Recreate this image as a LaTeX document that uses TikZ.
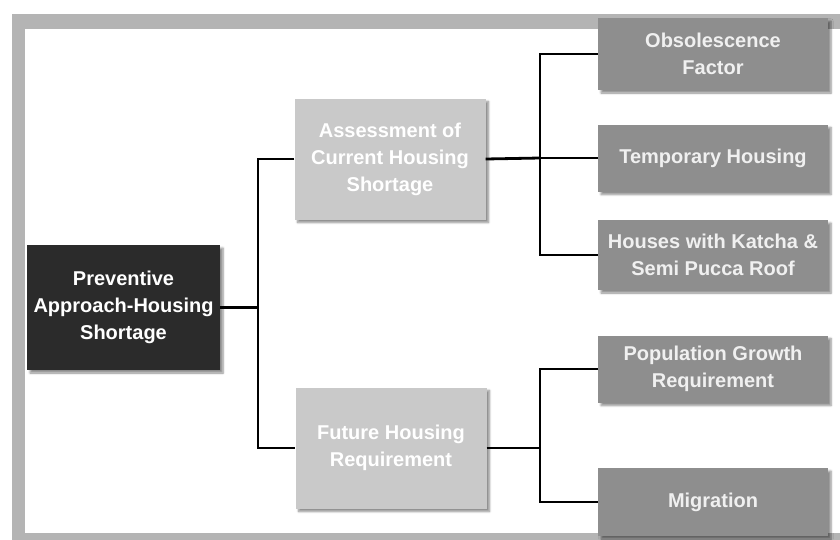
\documentclass[tikz,border=0pt]{standalone}
\usepackage{fontspec}
\setmainfont{Liberation Sans}
\usetikzlibrary{shadows.blur}
\definecolor{rootfill}{HTML}{2B2B2B}
\definecolor{lightfill}{HTML}{C9C9C9}
\definecolor{midfill}{HTML}{8E8E8E}
\definecolor{framecol}{HTML}{B4B4B4}
\tikzset{
  box/.style={rectangle, inner sep=1pt, align=center, text=white,
    font=\bfseries\fontsize{20}{27}\selectfont,
    blur shadow={shadow xshift=3pt, shadow yshift=-3pt, shadow blur steps=6, shadow opacity=45}},
  rootbox/.style={box, fill=rootfill, minimum width=193pt, minimum height=125pt},
  midbox/.style={box, fill=lightfill, minimum width=191pt, minimum height=121pt},
  leafbox/.style={box, fill=midfill, text=white!94!black, minimum width=230pt},
  link/.style={line width=2.8pt, black}
}
\begin{document}
\begin{tikzpicture}[x=1pt,y=-1pt]
\useasboundingbox (0,0) rectangle (840,539);
% frame
\fill[framecol] (12,14) rectangle (870,29);
\fill[framecol] (12,14) rectangle (25,545);
\fill[framecol] (12,533) rectangle (870,545);
% nodes
\node[rootbox] (root) at (123.5,307.5) {Preventive\\Approach-Housing\\Shortage};
\node[midbox] (assess) at (390,159) {Assessment of\\Current Housing\\Shortage};
\node[midbox] (future) at (391,448) {Future Housing\\Requirement};
\node[leafbox, minimum height=72pt] (obs) at (713,54) {Obsolescence\\Factor};
\node[leafbox, minimum height=67pt] (temp) at (713,158) {Temporary Housing};
\node[leafbox, minimum height=70pt] (houses) at (713,255) {Houses with Katcha \&\\Semi Pucca Roof};
\node[leafbox, minimum height=67pt] (pop) at (713,369) {Population Growth\\Requirement};
\node[leafbox, minimum height=68pt] (mig) at (713,502) {Migration};
% junctions
\coordinate (j1) at (258,307.5);
\coordinate (j2) at (540,158);
\coordinate (j3) at (540,448);
% connectors
\draw[link] (root.east) -- (j1);
\draw[link] (assess.west) -| (j1) |- (future.west);
\draw[link] (assess.east) -- (j2);
\draw[link] (obs.west) -| (j2) |- (houses.west);
\draw[link] (temp.west) -- (j2);
\draw[link] (future.east) -- (j3);
\draw[link] (pop.west) -| (j3) |- (mig.west);
\end{tikzpicture}
\end{document}
